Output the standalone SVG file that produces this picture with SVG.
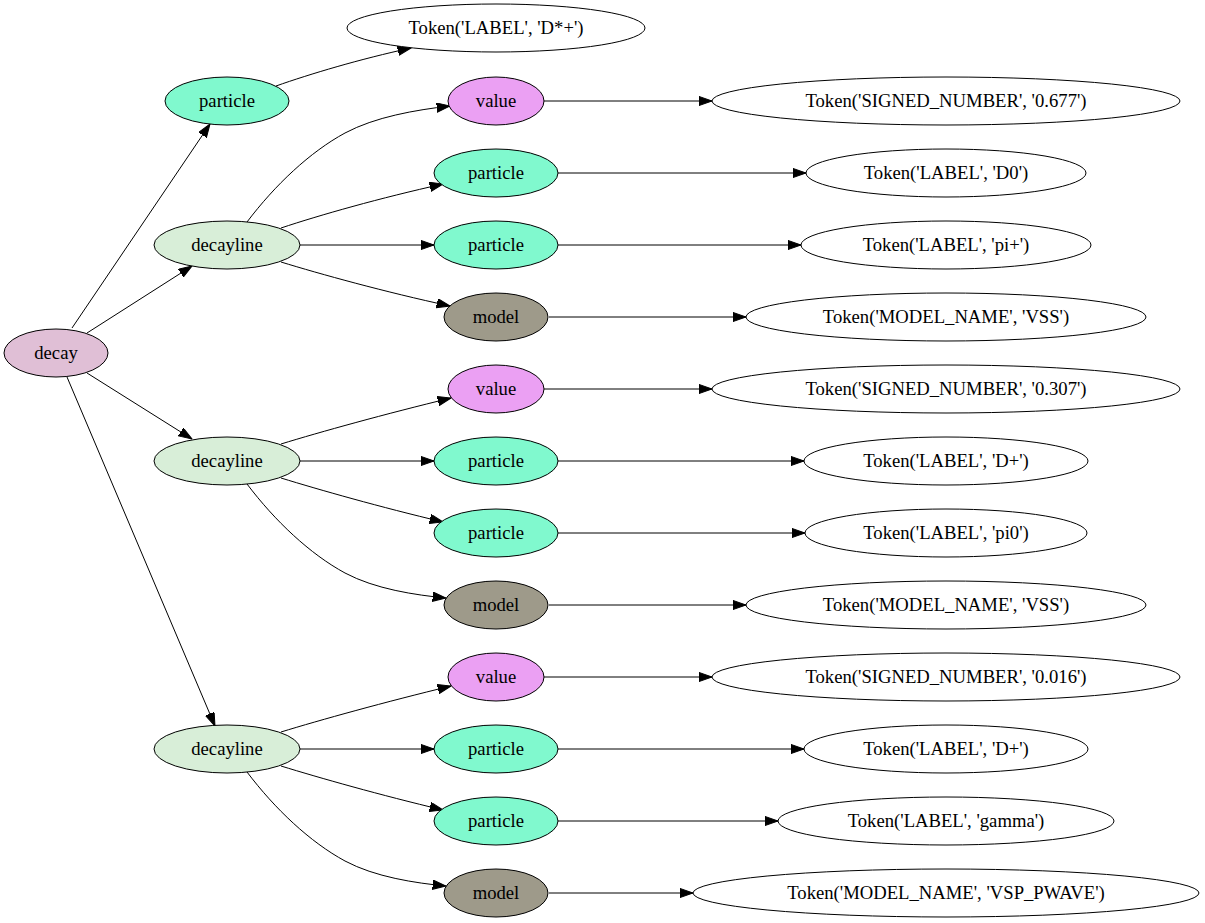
<svg xmlns="http://www.w3.org/2000/svg" width="1205" height="923" viewBox="0 0 1205 923">
<style>
ellipse{stroke:#000;stroke-width:1}
.tok{fill:#fff}
.decay{fill:#e0bfd6}
.dl{fill:#d8eed8}
.part{fill:#80f9ce}
.val{fill:#eba0f3}
.mod{fill:#9e9a8a}
text{font-size:18.67px;text-anchor:middle;fill:#000}
#edges path{fill:none;stroke:#000;stroke-width:1;marker-end:url(#arr)}
</style>
<defs>
<marker id="arr" markerUnits="userSpaceOnUse" markerWidth="14" markerHeight="10" refX="13.3" refY="4.67" orient="auto">
<path d="M0,0 L13.3,4.67 L0,9.33 z" fill="#000" stroke="#000" stroke-width="1"/>
</marker>
</defs>
<rect width="1205" height="923" fill="#fff"/>
<g id="edges">
<path d="M72,328 L210,124"/>
<path d="M87,333 L192,266"/>
<path d="M87,373 L192,439"/>
<path d="M67,377 L215,726"/>
<path d="M276,86 C310,74 360,59 411,48"/>
<path d="M247,222 C275,185 310,152 345,133 C375,117 415,110 450,106"/>
<path d="M281,228 C320,215 380,198 443,184"/>
<path d="M300,245 L434,245"/>
<path d="M281,262 C320,274 385,292 450,306"/>
<path d="M281,444 C320,432 385,414 451,398"/>
<path d="M300,461 L434,461"/>
<path d="M281,478 C320,490 380,507 443,522"/>
<path d="M247,484 C275,521 310,554 345,573 C375,589 415,595 446,598"/>
<path d="M281,732 C320,720 385,702 451,686"/>
<path d="M300,749 L434,749"/>
<path d="M281,766 C320,778 380,795 443,810"/>
<path d="M247,772 C275,809 310,842 345,861 C375,877 415,883 446,886"/>
<path d="M544,101 L712,101"/>
<path d="M558,173 L806,173"/>
<path d="M558,245 L801,245"/>
<path d="M549,317 L746,317"/>
<path d="M544,389 L712,389"/>
<path d="M558,461 L804,461"/>
<path d="M558,533 L805,533"/>
<path d="M549,605 L746,605"/>
<path d="M544,677 L712,677"/>
<path d="M558,749 L804,749"/>
<path d="M558,821 L778,821"/>
<path d="M549,893 L693,893"/>
</g>
<g id="nodes" font-family="Liberation Serif, DejaVu Serif, serif">
<g id="decay"><ellipse class="decay" cx="56" cy="353" rx="52" ry="24"/><text x="56" y="359">decay</text></g>
<g id="particle0"><ellipse class="part" cx="227" cy="101" rx="62" ry="24"/><text x="227" y="107">particle</text></g>
<g id="tok0"><ellipse class="tok" cx="496" cy="28" rx="149" ry="24"/><text x="496" y="34">Token('LABEL', 'D*+')</text></g>
<g id="decayline1"><ellipse class="dl" cx="227" cy="245" rx="73" ry="24"/><text x="227" y="251">decayline</text></g>
<g id="decayline2"><ellipse class="dl" cx="227" cy="461" rx="73" ry="24"/><text x="227" y="467">decayline</text></g>
<g id="decayline3"><ellipse class="dl" cx="227" cy="749" rx="73" ry="24"/><text x="227" y="755">decayline</text></g>
<g id="value1"><ellipse class="val" cx="496" cy="101" rx="48" ry="24"/><text x="496" y="107">value</text></g>
<g id="particle1a"><ellipse class="part" cx="496" cy="173" rx="62" ry="24"/><text x="496" y="179">particle</text></g>
<g id="particle1b"><ellipse class="part" cx="496" cy="245" rx="62" ry="24"/><text x="496" y="251">particle</text></g>
<g id="model1"><ellipse class="mod" cx="496" cy="317" rx="52" ry="24"/><text x="496" y="323">model</text></g>
<g id="value2"><ellipse class="val" cx="496" cy="389" rx="48" ry="24"/><text x="496" y="395">value</text></g>
<g id="particle2a"><ellipse class="part" cx="496" cy="461" rx="62" ry="24"/><text x="496" y="467">particle</text></g>
<g id="particle2b"><ellipse class="part" cx="496" cy="533" rx="62" ry="24"/><text x="496" y="539">particle</text></g>
<g id="model2"><ellipse class="mod" cx="496" cy="605" rx="52" ry="24"/><text x="496" y="611">model</text></g>
<g id="value3"><ellipse class="val" cx="496" cy="677" rx="48" ry="24"/><text x="496" y="683">value</text></g>
<g id="particle3a"><ellipse class="part" cx="496" cy="749" rx="62" ry="24"/><text x="496" y="755">particle</text></g>
<g id="particle3b"><ellipse class="part" cx="496" cy="821" rx="62" ry="24"/><text x="496" y="827">particle</text></g>
<g id="model3"><ellipse class="mod" cx="496" cy="893" rx="52" ry="24"/><text x="496" y="899">model</text></g>
<g id="tok1"><ellipse class="tok" cx="946" cy="101" rx="234" ry="24"/><text x="946" y="107">Token('SIGNED_NUMBER', '0.677')</text></g>
<g id="tok2"><ellipse class="tok" cx="946" cy="173" rx="140" ry="24"/><text x="946" y="179">Token('LABEL', 'D0')</text></g>
<g id="tok3"><ellipse class="tok" cx="946" cy="245" rx="145" ry="24"/><text x="946" y="251">Token('LABEL', 'pi+')</text></g>
<g id="tok4"><ellipse class="tok" cx="946" cy="317" rx="200" ry="24"/><text x="946" y="323">Token('MODEL_NAME', 'VSS')</text></g>
<g id="tok5"><ellipse class="tok" cx="946" cy="389" rx="234" ry="24"/><text x="946" y="395">Token('SIGNED_NUMBER', '0.307')</text></g>
<g id="tok6"><ellipse class="tok" cx="946" cy="461" rx="142" ry="24"/><text x="946" y="467">Token('LABEL', 'D+')</text></g>
<g id="tok7"><ellipse class="tok" cx="946" cy="533" rx="141" ry="24"/><text x="946" y="539">Token('LABEL', 'pi0')</text></g>
<g id="tok8"><ellipse class="tok" cx="946" cy="605" rx="200" ry="24"/><text x="946" y="611">Token('MODEL_NAME', 'VSS')</text></g>
<g id="tok9"><ellipse class="tok" cx="946" cy="677" rx="234" ry="24"/><text x="946" y="683">Token('SIGNED_NUMBER', '0.016')</text></g>
<g id="tok10"><ellipse class="tok" cx="946" cy="749" rx="142" ry="24"/><text x="946" y="755">Token('LABEL', 'D+')</text></g>
<g id="tok11"><ellipse class="tok" cx="946" cy="821" rx="168" ry="24"/><text x="946" y="827">Token('LABEL', 'gamma')</text></g>
<g id="tok12"><ellipse class="tok" cx="946" cy="893" rx="253" ry="24"/><text x="946" y="899">Token('MODEL_NAME', 'VSP_PWAVE')</text></g>
</g>
</svg>
